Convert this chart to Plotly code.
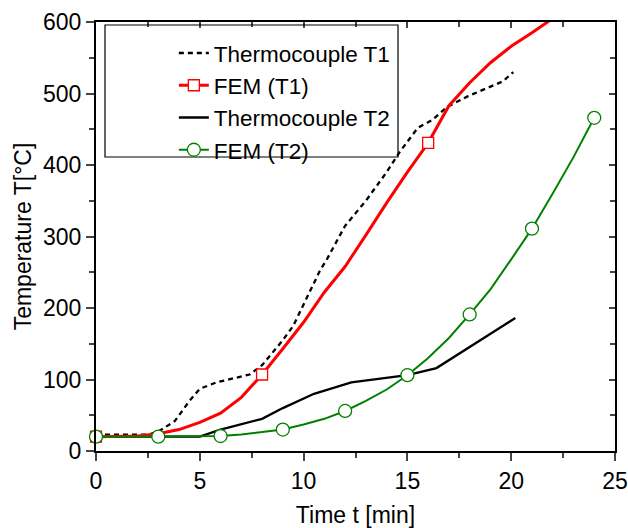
import plotly.graph_objects as go

# Thermocouple T1 (dashed)
tc1_t = [0, 2.5, 3, 3.8, 4.5, 5, 5.8, 7.4, 8, 9, 9.5, 10, 10.8, 11.1, 12, 13, 14, 14.6, 15.5, 16.2, 16.9, 17.9, 19.1, 19.6, 20.1]
tc1_T = [23, 23, 27, 42, 70, 87, 96, 107, 120, 155, 175, 205, 253, 267, 315, 350, 390, 417, 452, 463, 481, 496, 511, 517, 530]

# FEM (T1)
fem1_t = [0, 1, 2, 3, 4, 5, 6, 7, 8, 9, 10, 11, 12, 13, 14, 15, 16, 17, 18, 19, 20, 21, 22]
fem1_T = [20, 20, 21, 24, 30, 40, 53, 75, 107, 143, 180, 222, 258, 302, 347, 390, 431, 483, 515, 543, 566, 585, 605]
fem1_mark_t = [0, 8, 16]
fem1_mark_T = [20, 107, 431]

# Thermocouple T2 (solid)
tc2_t = [0, 5, 6, 7, 8, 9, 10.5, 12.3, 15, 16.4, 18, 20.2]
tc2_T = [20, 20, 30, 37, 45, 60, 80, 96, 106, 116, 145, 186]

# FEM (T2)
fem2_t = list(range(0, 25))
fem2_T = [20, 20, 20, 20, 20, 20, 21, 23, 26, 30, 37, 45, 56, 70, 86, 106, 130, 158, 191, 226, 268, 311, 360, 411, 466]
fem2_mark_t = [0, 3, 6, 9, 12, 15, 18, 21, 24]
fem2_mark_T = [20, 20, 21, 30, 56, 106, 191, 311, 466]

RED = "#ff0000"
GREEN = "#008000"
FONT = "Liberation Sans, Arial, sans-serif"

fig = go.Figure()

# data traces
fig.add_trace(go.Scatter(x=tc1_t, y=tc1_T, mode="lines", showlegend=False,
                         line=dict(color="black", width=2.3, dash="5px,4px")))
fig.add_trace(go.Scatter(x=tc2_t, y=tc2_T, mode="lines", showlegend=False,
                         line=dict(color="black", width=2.3)))
fig.add_trace(go.Scatter(x=fem1_t, y=fem1_T, mode="lines", showlegend=False,
                         line=dict(color=RED, width=3)))
fig.add_trace(go.Scatter(x=fem2_t, y=fem2_T, mode="lines", showlegend=False,
                         line=dict(color=GREEN, width=2)))
fig.add_trace(go.Scatter(x=fem1_mark_t, y=fem1_mark_T, mode="markers", showlegend=False, cliponaxis=False,
                         marker=dict(symbol="square", size=11, color="white", line=dict(color=RED, width=1.3))))
fig.add_trace(go.Scatter(x=fem2_mark_t, y=fem2_mark_T, mode="markers", showlegend=False, cliponaxis=False,
                         marker=dict(symbol="circle", size=13, color="white", line=dict(color=GREEN, width=1.3))))

# legend entries
fig.add_trace(go.Scatter(x=[None], y=[None], mode="lines", name="Thermocouple T1",
                         line=dict(color="black", width=2.3, dash="5px,4px")))
fig.add_trace(go.Scatter(x=[None], y=[None], mode="lines+markers", name="FEM (T1)",
                         line=dict(color=RED, width=3),
                         marker=dict(symbol="square", size=11, color="white", line=dict(color=RED, width=1.3))))
fig.add_trace(go.Scatter(x=[None], y=[None], mode="lines", name="Thermocouple T2",
                         line=dict(color="black", width=2.3)))
fig.add_trace(go.Scatter(x=[None], y=[None], mode="lines+markers", name="FEM (T2)",
                         line=dict(color=GREEN, width=2),
                         marker=dict(symbol="circle", size=13, color="white", line=dict(color=GREEN, width=1.3))))

# dummy trace for mirrored axes
fig.add_trace(go.Scatter(x=[None], y=[None], xaxis="x2", yaxis="y2", showlegend=False, hoverinfo="skip"))

axfont = dict(family=FONT, size=23, color="black")

fig.update_layout(
    width=628, height=528,
    margin=dict(l=96, r=13, t=22, b=77, autoexpand=False),
    paper_bgcolor="white", plot_bgcolor="white",
    font=axfont,
    showlegend=True,
    legend=dict(x=0.15, y=0.977, xanchor="left", yanchor="top",
                bgcolor="rgba(0,0,0,0)", borderwidth=0,
                font=dict(family=FONT, size=22.5, color="black"),
                tracegroupgap=0),
    xaxis=dict(range=[0, 25], tick0=0, dtick=5, ticks="outside", ticklen=8, tickwidth=2,
               showgrid=False, zeroline=False, showline=True, linecolor="black", linewidth=2,
               tickfont=axfont, automargin=False,
               title=dict(text="Time t [min]", font=axfont, standoff=14),
               minor=dict(dtick=2.5, ticks="outside", ticklen=5, tickwidth=2, showgrid=False)),
    yaxis=dict(range=[0, 600], tick0=0, dtick=100, ticks="outside", ticklen=8, tickwidth=2,
               showgrid=False, zeroline=False, showline=True, linecolor="black", linewidth=2,
               tickfont=axfont, automargin=False,
               title=dict(text="Temperature T[°C]", font=axfont, standoff=5),
               minor=dict(dtick=50, ticks="outside", ticklen=5, tickwidth=2, showgrid=False)),
    xaxis2=dict(range=[0, 25], overlaying="x", anchor="y", side="top", tick0=0, dtick=5,
                ticks="inside", ticklen=6, tickwidth=2, showticklabels=False, automargin=False,
                showgrid=False, zeroline=False, showline=True, linecolor="black", linewidth=2,
                minor=dict(dtick=2.5, ticks="inside", ticklen=5, tickwidth=2, showgrid=False)),
    yaxis2=dict(range=[0, 600], overlaying="y", anchor="x", side="right", tick0=0, dtick=100,
                ticks="inside", ticklen=6, tickwidth=2, showticklabels=False, automargin=False,
                showgrid=False, zeroline=False, showline=True, linecolor="black", linewidth=2,
                minor=dict(dtick=50, ticks="inside", ticklen=5, tickwidth=2, showgrid=False)),
    shapes=[dict(type="rect", xref="paper", yref="paper",
                 x0=(105 - 96) / 519, x1=(398 - 96) / 519,
                 y0=(451 - 157) / 429, y1=(451 - 25) / 429,
                 line=dict(color="black", width=1.2), fillcolor="rgba(0,0,0,0)", layer="above")],
)

fig.write_html("out.html")
